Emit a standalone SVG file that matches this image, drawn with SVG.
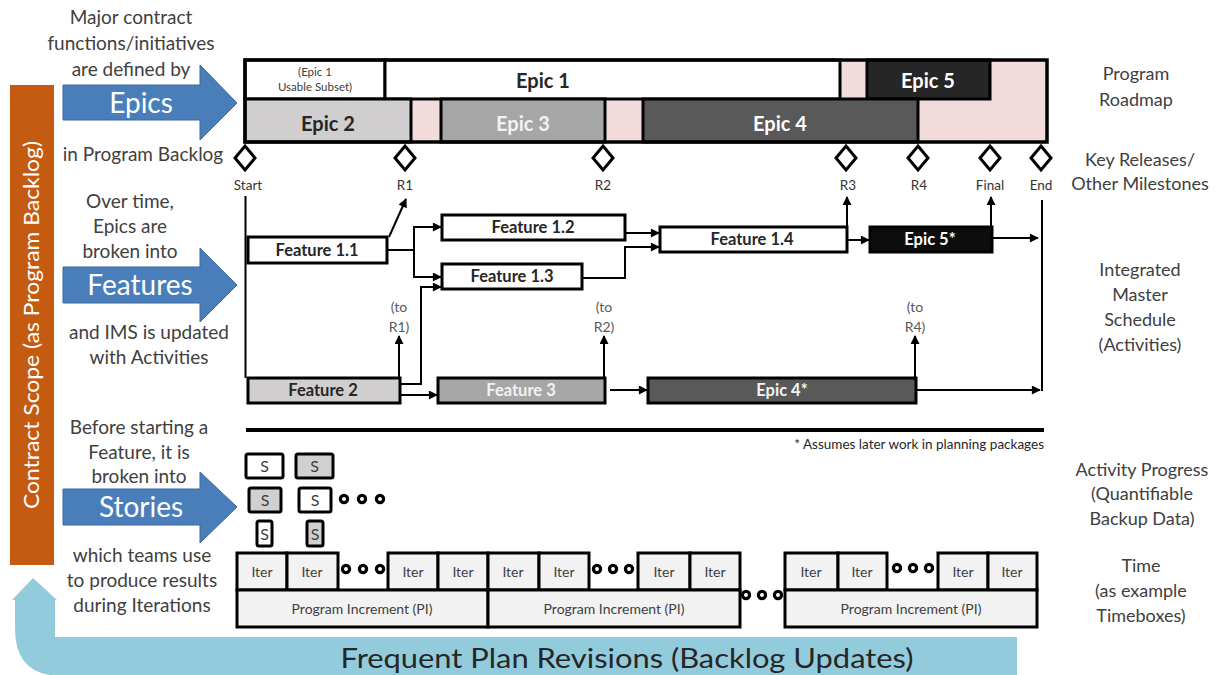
<svg xmlns="http://www.w3.org/2000/svg" width="1216" height="675" viewBox="0 0 1216 675">
<style>
  .t { font-family: Lato, "Liberation Sans", sans-serif; fill: #404040; }
  .lt { font-size: 19px; text-anchor: middle; }
  .rt { font-size: 18px; text-anchor: middle; }
  .big { font-family: Lato, "Liberation Sans", sans-serif; fill: #ffffff; font-size: 28px; text-anchor: middle; }
  .ms { font-family: Lato, "Liberation Sans", sans-serif; font-size: 13.5px; fill: #333; text-anchor: middle; }
  .fb { font-family: Lato, "Liberation Sans", sans-serif; font-weight: 700; font-size: 16.5px; text-anchor: middle; fill: #262626; }
  .eb { font-family: Lato, "Liberation Sans", sans-serif; font-weight: 700; font-size: 20px; text-anchor: middle; fill: #262626; }
  .box { stroke: #000; stroke-width: 3; }
  .con { fill: none; stroke: #000; stroke-width: 2; }
  .arr { marker-end: url(#ah); }
  .dia { fill: #fff; stroke: #000; stroke-width: 3; }
  .it { fill: #f2f2f2; stroke: #000; stroke-width: 3; }
  .sm { font-family: Lato, "Liberation Sans", sans-serif; font-size: 14px; fill: #404040; text-anchor: middle; }
  .st { font-family: Lato, "Liberation Sans", sans-serif; font-size: 16px; fill: #404040; text-anchor: middle; }
  .dot { fill: #fff; stroke: #000; stroke-width: 3.2; }
  .barrow { fill: #4a7ebb; stroke: #3a68a0; stroke-width: 1; }
</style>
<defs>
  <marker id="ah" viewBox="0 0 10 10" refX="9" refY="5" markerUnits="userSpaceOnUse" markerWidth="10" markerHeight="9" orient="auto">
    <path d="M0,0 L10,5 L0,10 z" fill="#000"/>
  </marker>
</defs>

<!-- Contract scope bar -->
<g id="contract-scope">
  <rect x="10" y="85" width="44" height="480" fill="#c55a11"/>
  <text x="0" y="0" transform="translate(39,325) rotate(-90)" font-family="Lato, 'Liberation Sans', sans-serif" font-size="21" fill="#fff" text-anchor="middle" textLength="368" lengthAdjust="spacingAndGlyphs">Contract Scope (as Program Backlog)</text>
</g>

<!-- Revisions arrow -->
<g id="revisions">
  <path d="M33,578 L57,600 L55,600 L55,637 L1017,637 L1017,676 L62,676 Q15,676 15,629 L15,600 L12,600 Z" fill="#92cbdc"/>
  <text x="627" y="668" font-family="Lato, 'Liberation Sans', sans-serif" font-size="27" fill="#262626" text-anchor="middle" textLength="573" lengthAdjust="spacingAndGlyphs">Frequent Plan Revisions (Backlog Updates)</text>
</g>

<!-- Epics arrow and text -->
<g id="epics-text">
  <text class="t lt" x="131" y="24">Major contract</text>
  <text class="t lt" x="131" y="50">functions/initiatives</text>
  <text class="t lt" x="131" y="76">are defined by</text>
  <polygon class="barrow" points="63,85 200,85 200,65 237,103 200,140 200,120 63,120"/>
  <text class="big" x="141" y="113">Epics</text>
  <text class="t lt" x="143" y="161">in Program Backlog</text>
</g>

<g id="features-text">
  <text class="t lt" x="130" y="208">Over time,</text>
  <text class="t lt" x="130" y="233">Epics are</text>
  <text class="t lt" x="130" y="258">broken into</text>
  <polygon class="barrow" points="63,267 200,267 200,248 237,285 200,322 200,303 63,303"/>
  <text class="big" x="140" y="295">Features</text>
  <text class="t lt" x="149" y="339">and IMS is updated</text>
  <text class="t lt" x="149" y="364">with Activities</text>
</g>

<g id="stories-text">
  <text class="t lt" x="139" y="434">Before starting a</text>
  <text class="t lt" x="139" y="459">Feature, it is</text>
  <text class="t lt" x="139" y="483">broken into</text>
  <polygon class="barrow" points="63,489 200,489 200,472 237,507 200,543 200,525 63,525"/>
  <text class="big" x="141" y="517">Stories</text>
  <text class="t lt" x="142" y="562">which teams use</text>
  <text class="t lt" x="142" y="587">to produce results</text>
  <text class="t lt" x="142" y="612">during Iterations</text>
</g>

<!-- Right labels -->
<g id="right-labels">
  <text class="t rt" x="1136" y="80">Program</text>
  <text class="t rt" x="1136" y="106">Roadmap</text>
  <text class="t rt" x="1140" y="166">Key Releases/</text>
  <text class="t rt" x="1140" y="190">Other Milestones</text>
  <text class="t rt" x="1140" y="276">Integrated</text>
  <text class="t rt" x="1140" y="301">Master</text>
  <text class="t rt" x="1140" y="326">Schedule</text>
  <text class="t rt" x="1140" y="351">(Activities)</text>
  <text class="t rt" x="1142" y="476">Activity Progress</text>
  <text class="t rt" x="1142" y="500">(Quantifiable</text>
  <text class="t rt" x="1142" y="525">Backup Data)</text>
  <text class="t rt" x="1141" y="572">Time</text>
  <text class="t rt" x="1141" y="597">(as example</text>
  <text class="t rt" x="1141" y="622">Timeboxes)</text>
</g>

<!-- Roadmap -->
<g id="roadmap">
  <rect x="245" y="60" width="802" height="82" fill="#f2dcdb"/>
  <rect class="box" x="245" y="60" width="140" height="39" fill="#fff"/>
  <rect class="box" x="385" y="60" width="455" height="39" fill="#fff"/>
  <rect class="box" x="867" y="60" width="123" height="39" fill="#262626"/>
  <rect class="box" x="245" y="99" width="166" height="43" fill="#d0cece"/>
  <rect class="box" x="441" y="99" width="164" height="43" fill="#a6a6a6"/>
  <rect class="box" x="643" y="99" width="275" height="43" fill="#595959"/>
  <rect x="245" y="60" width="802" height="82" fill="none" stroke="#000" stroke-width="3.5"/>
  <text x="315" y="76" font-family="Lato, 'Liberation Sans', sans-serif" font-size="11.5" fill="#404040" text-anchor="middle">(Epic 1</text>
  <text x="315" y="91" font-family="Lato, 'Liberation Sans', sans-serif" font-size="11.5" fill="#404040" text-anchor="middle">Usable Subset)</text>
  <text class="eb" x="543" y="88">Epic 1</text>
  <text class="eb" x="928" y="88" style="fill:#fff">Epic 5</text>
  <text class="eb" x="328" y="131">Epic 2</text>
  <text class="eb" x="523" y="131" style="fill:#f2f2f2">Epic 3</text>
  <text class="eb" x="780" y="131" style="fill:#fff">Epic 4</text>
</g>

<!-- Milestones -->
<g id="milestones">
  <path class="dia" d="M245,146 L255,158 L245,170 L235,158 Z"/>
  <path class="dia" d="M405,146 L415,158 L405,170 L395,158 Z"/>
  <path class="dia" d="M603,146 L613,158 L603,170 L593,158 Z"/>
  <path class="dia" d="M846,146 L856,158 L846,170 L836,158 Z"/>
  <path class="dia" d="M918,146 L928,158 L918,170 L908,158 Z"/>
  <path class="dia" d="M990,146 L1000,158 L990,170 L980,158 Z"/>
  <path class="dia" d="M1041,146 L1051,158 L1041,170 L1031,158 Z"/>
  <text class="ms" x="248" y="190">Start</text>
  <text class="ms" x="405" y="190">R1</text>
  <text class="ms" x="603" y="190">R2</text>
  <text class="ms" x="848" y="190">R3</text>
  <text class="ms" x="919" y="190">R4</text>
  <text class="ms" x="990" y="190">Final</text>
  <text class="ms" x="1041" y="190">End</text>
</g>

<!-- IMS nodes -->
<g id="f11"><rect class="box" x="248" y="237" width="139" height="26" fill="#fff"/><text class="fb" x="317" y="256">Feature 1.1</text></g>
<g id="f12"><rect class="box" x="442" y="215" width="183" height="25" fill="#fff"/><text class="fb" x="533" y="233">Feature 1.2</text></g>
<g id="f13"><rect class="box" x="442" y="264" width="140" height="25" fill="#fff"/><text class="fb" x="512" y="282">Feature 1.3</text></g>
<g id="f14"><rect class="box" x="660" y="227" width="187" height="25" fill="#fff"/><text class="fb" x="752" y="245">Feature 1.4</text></g>
<g id="e5s"><rect class="box" x="870" y="227" width="122" height="25" fill="#0d0d0d"/><text class="fb" x="930" y="245" style="fill:#fff">Epic 5*</text></g>
<g id="f2"><rect class="box" x="248" y="378" width="152" height="25" fill="#d0cece"/><text class="fb" x="323" y="396">Feature 2</text></g>
<g id="f3"><rect class="box" x="438" y="378" width="167" height="25" fill="#a6a6a6"/><text class="fb" x="521" y="396" style="fill:#f2f2f2">Feature 3</text></g>
<g id="e4s"><rect class="box" x="648" y="378" width="268" height="25" fill="#595959"/><text class="fb" x="782" y="396" style="fill:#f2f2f2">Epic 4*</text></g>

<g id="to-labels">
  <text class="sm" x="399" y="312" style="fill:#595959">(to</text>
  <text class="sm" x="399" y="332" style="fill:#595959">R1)</text>
  <text class="sm" x="604" y="312" style="fill:#595959">(to</text>
  <text class="sm" x="604" y="332" style="fill:#595959">R2)</text>
  <text class="sm" x="915" y="312" style="fill:#595959">(to</text>
  <text class="sm" x="915" y="332" style="fill:#595959">R4)</text>
</g>

<!-- Connectors -->
<g id="connectors">
  <path class="con" d="M245.5,196 V378"/>
  <path class="con arr" d="M389,237 L406,199"/>
  <path class="con" d="M387,250 H414 M414,227 V277"/>
  <path class="con arr" d="M413,227 H441"/>
  <path class="con arr" d="M413,277 H441"/>
  <path class="con arr" d="M625,233 H659"/>
  <path class="con arr" d="M582,278 H625 V247 H659"/>
  <path class="con arr" d="M847,227 V197"/>
  <path class="con arr" d="M847,240 H869"/>
  <path class="con arr" d="M991,227 V197"/>
  <path class="con arr" d="M992,238 H1038"/>
  <path class="con" d="M1042,200 V391"/>
  <path class="con arr" d="M399,378 V336"/>
  <path class="con arr" d="M400,384 H421 V287 H441"/>
  <path class="con arr" d="M400,395 H437"/>
  <path class="con arr" d="M604,378 V336"/>
  <path class="con arr" d="M610,390 H647"/>
  <path class="con arr" d="M915,378 V336"/>
  <path class="con arr" d="M916,390 H1040"/>
</g>

<!-- divider and note -->
<g id="divider">
  <line x1="246" y1="430" x2="1044" y2="430" stroke="#000" stroke-width="4"/>
  <text x="1044" y="449" font-family="Lato, 'Liberation Sans', sans-serif" font-size="13.5" fill="#262626" text-anchor="end">* Assumes later work in planning packages</text>
</g>

<!-- Stories -->
<g id="stories">
  <rect class="box" x="246" y="454" width="37" height="24" rx="2" fill="#fff"/><text class="st" x="264.5" y="472">S</text>
  <rect class="box" x="296" y="454" width="37" height="24" rx="2" fill="#d0d0d0"/><text class="st" x="314.5" y="472">S</text>
  <rect class="box" x="249" y="488" width="32" height="24" rx="2" fill="#d0d0d0"/><text class="st" x="265" y="506">S</text>
  <rect class="box" x="299" y="488" width="32" height="24" rx="2" fill="#fff"/><text class="st" x="315" y="506">S</text>
  <rect class="box" x="257" y="521" width="15" height="25" rx="2" fill="#fff"/><text class="st" x="264.5" y="540">S</text>
  <rect class="box" x="307" y="521" width="16" height="25" rx="2" fill="#d0d0d0"/><text class="st" x="315" y="540">S</text>
  <circle class="dot" cx="344" cy="499" r="3.6"/>
  <circle class="dot" cx="362" cy="499" r="3.6"/>
  <circle class="dot" cx="380" cy="499" r="3.6"/>
</g>

<!-- Timeboxes -->
<g id="timeboxes">
  <rect class="it" x="237" y="553" width="50" height="37"/><text class="sm" x="262" y="577">Iter</text>
  <rect class="it" x="287" y="553" width="51" height="37"/><text class="sm" x="312" y="577">Iter</text>
  <rect class="it" x="388" y="553" width="50" height="37"/><text class="sm" x="413" y="577">Iter</text>
  <rect class="it" x="438" y="553" width="50" height="37"/><text class="sm" x="463" y="577">Iter</text>
  <rect class="it" x="488" y="553" width="51" height="37"/><text class="sm" x="513" y="577">Iter</text>
  <rect class="it" x="539" y="553" width="50" height="37"/><text class="sm" x="564" y="577">Iter</text>
  <rect class="it" x="638" y="553" width="52" height="37"/><text class="sm" x="664" y="577">Iter</text>
  <rect class="it" x="690" y="553" width="50" height="37"/><text class="sm" x="715" y="577">Iter</text>
  <rect class="it" x="785" y="553" width="53" height="37"/><text class="sm" x="811" y="577">Iter</text>
  <rect class="it" x="838" y="553" width="49" height="37"/><text class="sm" x="862" y="577">Iter</text>
  <rect class="it" x="938" y="553" width="50" height="37"/><text class="sm" x="963" y="577">Iter</text>
  <rect class="it" x="988" y="553" width="49" height="37"/><text class="sm" x="1012" y="577">Iter</text>
  <rect class="it" x="237" y="590" width="251" height="37"/><text class="sm" x="362" y="614">Program Increment (PI)</text>
  <rect class="it" x="488" y="590" width="252" height="37"/><text class="sm" x="614" y="614">Program Increment (PI)</text>
  <rect class="it" x="785" y="590" width="252" height="37"/><text class="sm" x="911" y="614">Program Increment (PI)</text>
  <circle class="dot" cx="346" cy="569" r="3.6"/><circle class="dot" cx="363" cy="569" r="3.6"/><circle class="dot" cx="380" cy="569" r="3.6"/>
  <circle class="dot" cx="597" cy="569" r="3.6"/><circle class="dot" cx="613" cy="569" r="3.6"/><circle class="dot" cx="629" cy="569" r="3.6"/>
  <circle class="dot" cx="897" cy="568" r="3.6"/><circle class="dot" cx="913" cy="568" r="3.6"/><circle class="dot" cx="929" cy="568" r="3.6"/>
  <circle class="dot" cx="746" cy="595" r="3.6"/><circle class="dot" cx="762" cy="595" r="3.6"/><circle class="dot" cx="778" cy="595" r="3.6"/>
</g>
</svg>
